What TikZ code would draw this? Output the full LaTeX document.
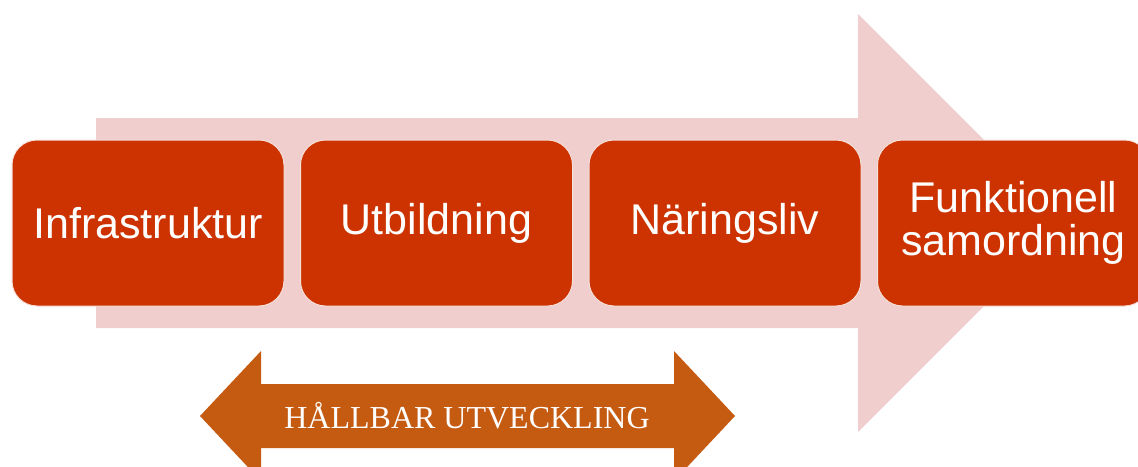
\documentclass[tikz,border=0pt]{standalone}
\usepackage{fontspec}
\setmainfont{Liberation Serif}
\setsansfont{Liberation Sans}
\usetikzlibrary{positioning}
\definecolor{boxred}{HTML}{CC3300}
\definecolor{flowpink}{RGB}{239,206,205}
\definecolor{sustorange}{HTML}{C55A11}
\begin{document}
\begin{tikzpicture}[
    x=1pt, y=-1pt,
    box/.style={rectangle, rounded corners=25pt,
                draw=white!85!boxred, line width=1pt, fill=boxred,
                text=white, align=center, inner sep=0pt, outer sep=0pt,
                minimum width=272pt, minimum height=166pt,
                font=\sffamily\fontsize{43}{43}\selectfont,
                node distance=0pt and 16.5pt},
    flow/.style={fill=flowpink},
    sust/.style={fill=sustorange}]
    \useasboundingbox (0,0) rectangle (1138,466);

    \fill[flow] (96,118) -- (858,118) -- (858,14) -- (1067,223)
      -- (858,432) -- (858,328) -- (96,328) -- cycle;

    \node[box] (infra) [anchor=north west] at (12,140) {Infrastruktur};
    \node[box] (utb) [right=of infra] {Utbildning};
    \node[box] (naring) [right=of utb] {Näringsliv};
    \node[box] (samord) [right=of naring] {Funktionell\\samordning};

    \fill[sust] (200,416) -- (261,351) -- (261,384) -- (674,384) -- (674,351)
      -- (735,416) -- (674,481) -- (674,448) -- (261,448) -- (261,481) -- cycle;
    \node[text=white, font=\fontsize{32}{36}\selectfont] (hallbar) at (467,416) {HÅLLBAR UTVECKLING};
\end{tikzpicture}
\end{document}
